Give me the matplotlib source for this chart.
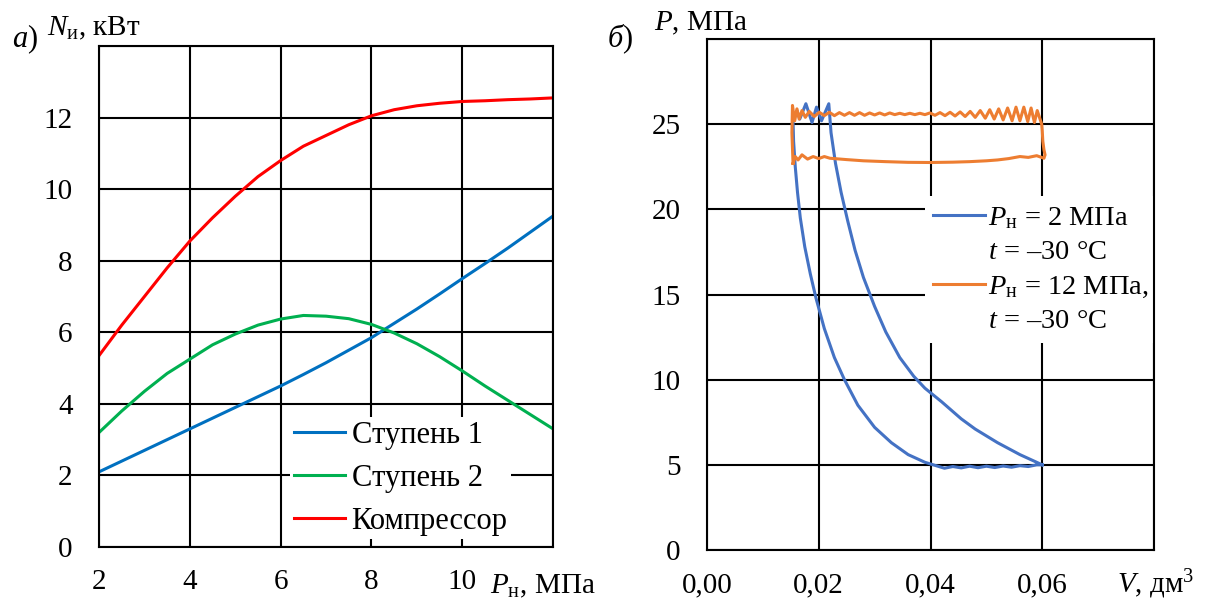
import matplotlib
matplotlib.use('Agg')
import matplotlib.pyplot as plt
from matplotlib.lines import Line2D

plt.rcParams['font.family'] = ['Liberation Serif', 'DejaVu Serif']
plt.rcParams['mathtext.fontset'] = 'custom'
plt.rcParams['mathtext.rm'] = 'Liberation Serif'
plt.rcParams['mathtext.it'] = 'Liberation Serif:italic'
plt.rcParams['font.size'] = 21

# ---- panel a) data: indicated power vs discharge pressure
p_n = [2, 2.5, 3, 3.5, 4, 4.5, 5, 5.5, 6, 6.5, 7, 7.5, 8, 8.5, 9, 9.5, 10, 10.5, 11, 11.5, 12]
stage1 = [2.1, 2.4, 2.7, 3.0, 3.3, 3.6, 3.9, 4.2, 4.5, 4.82, 5.15, 5.5, 5.85, 6.25, 6.65, 7.07, 7.5, 7.92, 8.35, 8.8, 9.25]
stage2 = [3.2, 3.8, 4.35, 4.85, 5.25, 5.65, 5.95, 6.2, 6.37, 6.47, 6.45, 6.38, 6.22, 5.98, 5.68, 5.32, 4.92, 4.5, 4.1, 3.7, 3.3]
compressor = [5.35, 6.2, 7.0, 7.8, 8.55, 9.2, 9.8, 10.35, 10.8, 11.2, 11.5, 11.8, 12.05, 12.22, 12.33, 12.4, 12.45, 12.47, 12.5, 12.52, 12.55]

# ---- panel b) data: indicator diagrams P(V)
blue_v = [0.0600, 0.0560, 0.0520, 0.0480, 0.0455, 0.0420, 0.0390, 0.0370, 0.0345, 0.0320,
          0.0300, 0.0280, 0.0265, 0.0252, 0.0240, 0.0230, 0.0222, 0.0218,
          0.0205, 0.0196, 0.0188, 0.0177, 0.0166, 0.0161, 0.0154,
          0.0155, 0.0158, 0.0162, 0.0167, 0.0175, 0.0185, 0.0195, 0.0210, 0.0228, 0.0246,
          0.0270, 0.0300, 0.0330, 0.0360, 0.0390, 0.0415,
          0.0425, 0.0440, 0.0455, 0.0470, 0.0485, 0.0500, 0.0515, 0.0530, 0.0545, 0.0560,
          0.0575, 0.0590, 0.0600]
blue_p = [5.0, 5.6, 6.3, 7.1, 7.7, 8.7, 9.5, 10.2, 11.3, 12.8,
          14.3, 16.0, 17.6, 19.3, 21.0, 22.7, 24.5, 26.2,
          25.2, 26.0, 25.1, 26.2, 25.3, 25.8, 25.2,
          24.0, 22.5, 21.0, 19.5, 17.8, 16.2, 14.8, 13.0, 11.3, 10.0,
          8.5, 7.2, 6.3, 5.6, 5.15, 4.9,
          4.8, 4.9, 4.82, 4.92, 4.83, 4.92, 4.84, 4.93, 4.86, 4.95,
          4.9, 5.0, 5.0]

orange_v = [0.0154, 0.0152,
            0.0153, 0.0157, 0.0161, 0.0165, 0.0170, 0.0176, 0.0183, 0.0192, 0.0201, 0.0210,
            0.0219, 0.0228, 0.0237, 0.0246, 0.0255, 0.0264, 0.0273, 0.0282, 0.0291, 0.0300,
            0.0309, 0.0318, 0.0327, 0.0336, 0.0345, 0.0354, 0.0363, 0.0372, 0.0381, 0.0390,
            0.0399, 0.0408, 0.0417, 0.0426, 0.0435, 0.0444, 0.0453, 0.0462, 0.0471, 0.0480,
            0.0489, 0.0498, 0.0506, 0.0514, 0.0522, 0.0530, 0.0538, 0.0546, 0.0553, 0.0560,
            0.0567, 0.0574, 0.0580, 0.0586, 0.0591, 0.0596, 0.0599,
            0.0600, 0.0601, 0.0603, 0.0605, 0.0603,
            0.0590, 0.0575, 0.0560, 0.0540, 0.0520, 0.0500, 0.0470, 0.0440, 0.0400, 0.0360,
            0.0320, 0.0280, 0.0250, 0.0220, 0.0210, 0.0200, 0.0190, 0.0180, 0.0170, 0.0163,
            0.0158, 0.0154]
orange_p = [22.7, 24.5,
            26.1, 25.2, 25.9, 25.3, 25.8, 25.4, 25.75, 25.45, 25.7, 25.5,
            25.7, 25.5, 25.68, 25.52, 25.68, 25.52, 25.68, 25.52, 25.66, 25.54,
            25.66, 25.54, 25.66, 25.56, 25.64, 25.56, 25.64, 25.56, 25.64, 25.56,
            25.66, 25.52, 25.68, 25.5, 25.7, 25.48, 25.72, 25.45, 25.75, 25.4,
            25.8, 25.35, 25.85, 25.3, 25.9, 25.25, 25.95, 25.2, 26.0, 25.2,
            26.0, 25.15, 25.95, 25.1, 25.8, 25.3, 25.0,
            24.6, 24.0, 23.5, 23.2, 23.0,
            23.15, 23.05, 23.1, 22.98, 22.9, 22.85, 22.8, 22.77, 22.75, 22.76,
            22.8, 22.85, 22.92, 23.0, 23.1, 22.98, 23.1, 22.95, 23.2, 22.9,
            23.1, 22.7]

fig = plt.figure(figsize=(12.05, 6.03), dpi=100)
ax1 = fig.add_axes([0.0822, 0.0929, 0.3768, 0.8308])
ax2 = fig.add_axes([0.5867, 0.0879, 0.3710, 0.8474])

for ax in (ax1, ax2):
    ax.grid(True, color='black', linewidth=1.5)
    ax.set_axisbelow(True)
    for s in ax.spines.values():
        s.set_color('black')
        s.set_linewidth(1.5)
    ax.tick_params(length=0)
    ax.tick_params(axis='x', pad=16)
    ax.tick_params(axis='y', pad=19)

# ---- panel a)
ax1.plot(p_n, stage1, color='#0070C0', linewidth=2.2, label='Ступень 1')
ax1.plot(p_n, stage2, color='#00B050', linewidth=2.2, label='Ступень 2')
ax1.plot(p_n, compressor, color='#FF0000', linewidth=2.2, label='Компрессор')
ax1.set_xlim(2, 12)
ax1.set_ylim(0, 14)
ax1.set_xticks([2, 4, 6, 8, 10, 12])
ax1.set_xticklabels(['2', '4', '6', '8', '10', ''])
ax1.set_yticks([0, 2, 4, 6, 8, 10, 12, 14])
ax1.set_yticklabels(['0', '2', '4', '6', '8', '10', '12', ''])
leg1 = ax1.legend(loc='lower left', bbox_to_anchor=(0.388, -0.014), frameon=True, fancybox=False,
                  framealpha=1, edgecolor='none', handlelength=1.67, handletextpad=0.23,
                  labelspacing=0.46, borderpad=0.1, fontsize=22)
leg1.set_zorder(2.4)  # keep spines drawn on top of the white legend box

# ---- panel b)
ax2.plot(blue_v, blue_p, color='#4472C4', linewidth=2.2)
ax2.plot(orange_v, orange_p, color='#ED7D31', linewidth=2.2)
ax2.set_xlim(0, 0.08)
ax2.set_ylim(0, 30)
ax2.set_xticks([0, 0.02, 0.04, 0.06, 0.08])
ax2.set_xticklabels(['0,00', '0,02', '0,04', '0,06', ''])
ax2.set_yticks([0, 5, 10, 15, 20, 25, 30])
ax2.set_yticklabels(['0', '5', '10', '15', '20', '25', ''])
handles = [Line2D([], [], color='#4472C4', linewidth=2.2),
           Line2D([], [], color='none'),
           Line2D([], [], color='#ED7D31', linewidth=2.2),
           Line2D([], [], color='none')]
labels = ['$P_{\\mathrm{н}}$ = 2 МПа', '$t$ = –30 °C',
          '$P_{\\mathrm{н}}$ = 12 МПа,', '$t$ = –30 °C']
leg2 = ax2.legend(handles, labels, loc='upper left', bbox_to_anchor=(0.455, 0.72), frameon=True,
                  fancybox=False, framealpha=1, edgecolor='none', handlelength=1.82,
                  handletextpad=0.1, labelspacing=0.3, borderpad=0.3, fontsize=20.5)
leg2.set_zorder(2.4)

# ---- axis captions placed like the original
fig.text(12 / 1205, 1 - 47 / 603, '$a$)', fontsize=22, va='baseline')
fig.text(47 / 1205, 1 - 35 / 603, '$N_{\\mathrm{и}}$, кВт', fontsize=21, va='baseline')
fig.text(607 / 1205, 1 - 47 / 603, '$\\mathit{б}$)', fontsize=22, va='baseline')
fig.text(654 / 1205, 1 - 30 / 603, '$P$, МПа', fontsize=21, va='baseline')
fig.text(490 / 1205, 1 - 593 / 603, '$P_{\\mathrm{н}}$, МПа', fontsize=21, va='baseline')
fig.text(1117 / 1205, 1 - 593 / 603, '$V$, дм$^3$', fontsize=21, va='baseline')

plt.savefig('out.png', dpi=100)
